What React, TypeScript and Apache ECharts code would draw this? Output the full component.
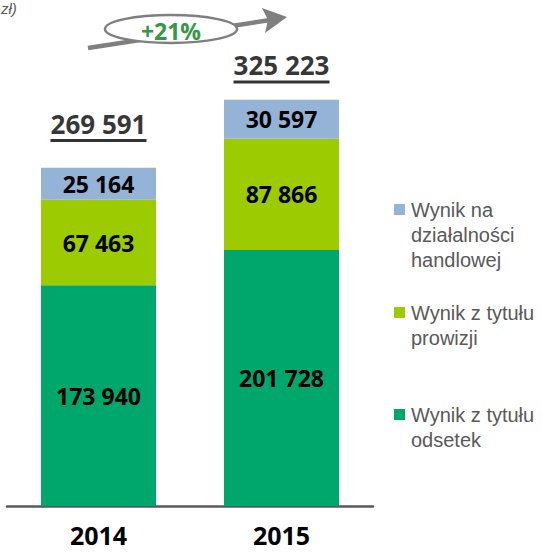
import React, { useEffect, useRef } from "react";
import * as echarts from "echarts";

const years = ["2014", "2015"];
const odsetek = [173940, 201728];
const prowizji = [67463, 87866];
const handlowej = [25164, 30597];
const totals = [269591, 325223];
const growthLabel = "+21%";
const unitLabel = "zł)";
const seriesNames = ["Wynik z tytułu\nodsetek", "Wynik z tytułu\nprowizji", "Wynik na\ndziałalności\nhandlowej"];
const colors = ["#00A76D", "#9BCB00", "#95B3D7"];

const fmt = (v: number) => {
  const s = String(v);
  return s.replace(/\B(?=(\d{3})+(?!\d))/g, " ");
};

export default function App() {
  const ref = useRef<HTMLDivElement>(null);
  useEffect(() => {
    if (!ref.current) return;
    const chart = echarts.init(ref.current, undefined, { renderer: "svg" });
    const barLabel = {
      show: true,
      position: "inside" as const,
      color: "#000",
      fontFamily: "Open Sans",
      fontWeight: "bold" as const,
      fontSize: 23,
      formatter: (p: any) => fmt(p.value),
    };
    const totalOffsets = [22, 10];
    const legendY = [415, 313, 210];
    const legendGraphics: any[] = [];
    [2, 1, 0].forEach((i) => {
      legendGraphics.push({
        type: "rect",
        shape: { x: 394, y: legendY[i] - 6, width: 11, height: 11 },
        style: { fill: colors[i] },
      });
      legendGraphics.push({
        type: "text",
        x: 411,
        y: legendY[i] - 12.5,
        style: {
          text: seriesNames[i],
          fill: "#595959",
          fontFamily: "Liberation Sans",
          fontSize: 20,
          lineHeight: 25,
          verticalAlign: "top",
          align: "left",
        },
      });
    });
    chart.setOption({
      animation: false,
      grid: { left: 7, width: 366, top: 62, bottom: 49 },
      xAxis: {
        type: "category",
        data: years,
        axisLine: { lineStyle: { color: "#595959", width: 2.5 } },
        axisTick: { show: false },
        axisLabel: {
          color: "#000",
          fontFamily: "Open Sans",
          fontWeight: "bold",
          fontSize: 25,
          margin: 16,
        },
      },
      yAxis: {
        type: "value",
        min: 0,
        max: 350000,
        show: false,
        splitLine: { show: false },
      },
      series: [
        { name: "odsetek", type: "bar", stack: "s", data: odsetek, barWidth: 115, itemStyle: { color: colors[0] }, label: barLabel },
        { name: "prowizji", type: "bar", stack: "s", data: prowizji, barWidth: 115, itemStyle: { color: colors[1] }, label: barLabel },
        { name: "handlowej", type: "bar", stack: "s", data: handlowej, barWidth: 115, itemStyle: { color: colors[2] }, label: barLabel },
        {
          name: "total",
          type: "scatter",
          symbolSize: 0,
          silent: true,
          data: totals.map((v, i) => ({
            value: v,
            label: {
              show: true,
              position: "top",
              distance: totalOffsets[i],
              formatter: `{t|${fmt(v)}}\n{u|}`,
              rich: {
                t: {
                  fontFamily: "Open Sans",
                  fontWeight: "bold",
                  fontSize: 26,
                  lineHeight: 30,
                  color: "#000",
                  align: "center",
                },
                u: {
                  width: 96,
                  height: 3,
                  backgroundColor: "#000",
                  align: "center",
                },
              },
            },
          })),
        },
      ],
      graphic: [
        {
          type: "text",
          x: 1,
          y: 1,
          style: {
            text: unitLabel,
            fill: "#595959",
            fontFamily: "Liberation Sans",
            fontStyle: "italic",
            fontSize: 15,
            align: "left",
            verticalAlign: "top",
          },
        },
        {
          type: "line",
          shape: { x1: 88, y1: 48, x2: 270, y2: 20 },
          style: { stroke: "#7F7F7F", lineWidth: 4.5 },
        },
        {
          type: "polygon",
          shape: { points: [[287, 17], [262, 8], [268, 20], [265, 33]] },
          style: { fill: "#7F7F7F" },
        },
        {
          type: "ellipse",
          shape: { cx: 171, cy: 29, rx: 66, ry: 14 },
          style: { fill: "#fff", stroke: "#7F7F7F", lineWidth: 2.5 },
        },
        {
          type: "text",
          x: 171,
          y: 31,
          style: {
            text: growthLabel,
            fill: "#339944",
            fontFamily: "Open Sans",
            fontWeight: "bold",
            fontSize: 23,
            align: "center",
            verticalAlign: "middle",
          },
        },
        ...legendGraphics,
      ],
    });
    return () => chart.dispose();
  }, []);
  return (
    <div
      ref={ref}
      style={{ position: "fixed", left: 0, top: 0, width: 542, height: 555, background: "#fff" }}
    />
  );
}
